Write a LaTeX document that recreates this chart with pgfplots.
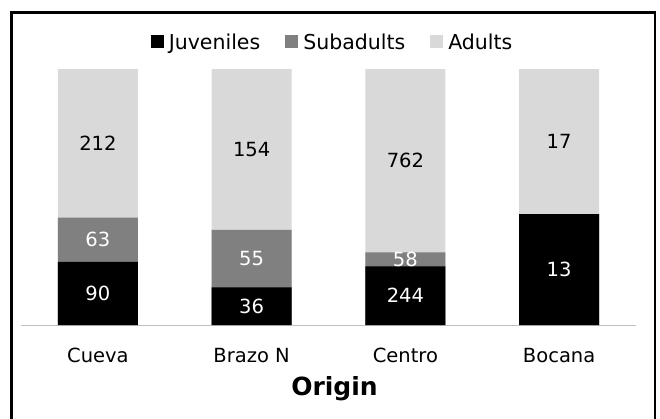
\documentclass[border=0pt]{standalone}
\usepackage{pgfplots}
\pgfplotsset{compat=1.18}
\usepackage{pgfplotstable}
\usepackage{fontspec}
\setmainfont{DejaVu Sans}

\definecolor{juv}{HTML}{000000}
\definecolor{sub}{HTML}{808080}
\definecolor{adu}{HTML}{D9D9D9}
\definecolor{baseline}{HTML}{BFBFBF}

% counts per origin: juveniles, subadults, adults
\pgfplotstableread{
x J S A
0 90 63 212
1 36 55 154
2 244 58 762
3 13 0 17
}\origin

\newcommand{\lblfont}{\fontsize{19.5bp}{23bp}\selectfont}

\begin{document}
\begin{tikzpicture}
\useasboundingbox (0bp,0bp) rectangle (660bp,-419bp);
\draw[line width=2.8bp] (11.5bp,-12.5bp) rectangle (655bp,-440bp);
\begin{axis}[
  at={(21bp,-325bp)}, anchor=south west,
  scale only axis, width=615bp, height=256bp,
  xmin=-0.5, xmax=3.5, ymin=0, ymax=100,
  axis y line=none, axis x line*=bottom,
  x axis line style={draw=baseline, line width=1bp, -},
  xtick={0,1,2,3}, xticklabels={Cueva,Brazo N,Centro,Bocana},
  major tick length=0pt,
  xticklabel style={font=\lblfont, anchor=base, yshift=-37bp, inner sep=0pt},
  xlabel={Origin},
  xlabel style={font=\bfseries\fontsize{25bp}{28bp}\selectfont, at={(axis description cs:0.5,0)},
    anchor=base, yshift=-70bp, xshift=6bp, inner sep=0pt},
  bar width=80bp,
  legend columns=3,
  legend style={draw=none, fill=none, at={(0.505,1.1055)}, anchor=center,
    font=\fontsize{20.5bp}{24bp}\selectfont, nodes={inner xsep=0pt, inner ysep=0pt},
    /tikz/every odd column/.append style={column sep=5bp},
    /tikz/every even column/.append style={column sep=25bp}},
  legend image code/.code={\path[#1] (0bp,-6.5bp) rectangle (13bp,6.5bp);},
  clip=false,
]
\addlegendimage{fill=juv, draw=none}
\addlegendentry{Juveniles}
\addlegendimage{fill=sub, draw=none}
\addlegendentry{Subadults}
\addlegendimage{fill=adu, draw=none}
\addlegendentry{Adults}

% stacked shares drawn as overlapping bars, tallest first
\addplot[ybar, bar shift=0pt, fill=adu, draw=none, forget plot]
  table[x=x, y expr=(\thisrow{J}+\thisrow{S}+\thisrow{A})/(\thisrow{J}+\thisrow{S}+\thisrow{A})*100] {\origin};
\addplot[ybar, bar shift=0pt, fill=sub, draw=none, forget plot]
  table[x=x, y expr=(\thisrow{J}+\thisrow{S})/(\thisrow{J}+\thisrow{S}+\thisrow{A})*100] {\origin};
\addplot[ybar, bar shift=0pt, fill=juv, draw=none, forget plot]
  table[x=x, y expr=\thisrow{J}/(\thisrow{J}+\thisrow{S}+\thisrow{A})*100] {\origin};

% count labels at the middle of each segment
\addplot[draw=none, mark=none, forget plot, nodes near coords, point meta=explicit symbolic,
  every node near coord/.append style={anchor=center, font=\lblfont, text=white, inner sep=0pt}]
  table[x=x, y expr=0.5*\thisrow{J}/(\thisrow{J}+\thisrow{S}+\thisrow{A})*100, meta=J] {\origin};
\addplot[draw=none, mark=none, forget plot, nodes near coords, point meta=explicit symbolic,
  skip coords between index={3}{4},
  every node near coord/.append style={anchor=center, font=\lblfont, text=white, inner sep=0pt}]
  table[x=x, y expr=(\thisrow{J}+0.5*\thisrow{S})/(\thisrow{J}+\thisrow{S}+\thisrow{A})*100, meta=S] {\origin};
\addplot[draw=none, mark=none, forget plot, nodes near coords, point meta=explicit symbolic,
  every node near coord/.append style={anchor=center, font=\lblfont, text=black, inner sep=0pt}]
  table[x=x, y expr=(\thisrow{J}+\thisrow{S}+0.5*\thisrow{A})/(\thisrow{J}+\thisrow{S}+\thisrow{A})*100, meta=A] {\origin};
\end{axis}
\end{tikzpicture}
\end{document}
